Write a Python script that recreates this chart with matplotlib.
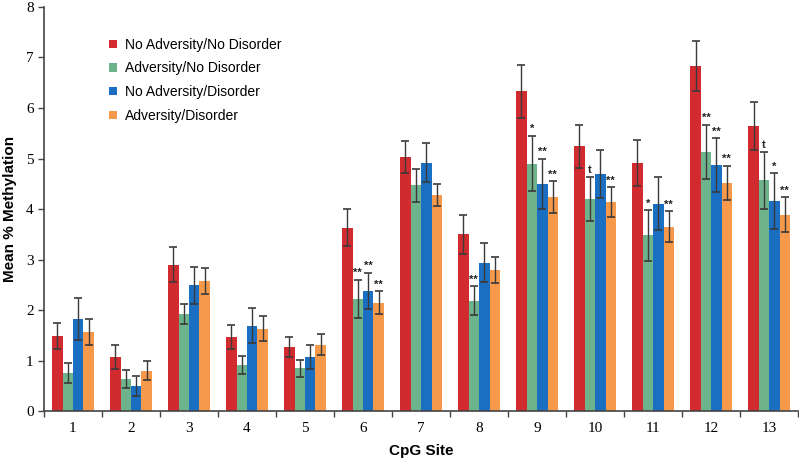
import matplotlib
matplotlib.use('Agg')
import matplotlib.pyplot as plt
import numpy as np

sites = ['1', '2', '3', '4', '5', '6', '7', '8', '9', '10', '11', '12', '13']
groups = ['No Adversity/No Disorder', 'Adversity/No Disorder',
          'No Adversity/Disorder', 'Adversity/Disorder']
colors = ['#d12a2f', '#6db38b', '#1a6fc3', '#f6994a']

no_adv_no_dis = [1.49, 1.07, 2.90, 1.47, 1.27, 3.63, 5.03, 3.50, 6.33, 5.24, 4.91, 6.83, 5.64]
adv_no_dis = [0.75, 0.63, 1.92, 0.91, 0.85, 2.22, 4.47, 2.19, 4.90, 4.20, 3.48, 5.13, 4.57]
no_adv_dis = [1.83, 0.50, 2.49, 1.69, 1.07, 2.38, 4.92, 2.94, 4.50, 4.69, 4.11, 4.87, 4.16]
adv_dis = [1.57, 0.80, 2.58, 1.63, 1.32, 2.15, 4.28, 2.80, 4.24, 4.14, 3.65, 4.52, 3.89]

err_no_adv_no_dis = [0.25, 0.24, 0.35, 0.24, 0.20, 0.37, 0.32, 0.38, 0.52, 0.42, 0.46, 0.50, 0.47]
err_adv_no_dis = [0.20, 0.18, 0.20, 0.18, 0.17, 0.38, 0.33, 0.29, 0.55, 0.44, 0.50, 0.54, 0.56]
err_no_adv_dis = [0.42, 0.19, 0.37, 0.35, 0.24, 0.36, 0.39, 0.39, 0.50, 0.47, 0.52, 0.53, 0.55]
err_adv_dis = [0.26, 0.19, 0.26, 0.25, 0.20, 0.23, 0.22, 0.26, 0.31, 0.29, 0.31, 0.34, 0.34]

# significance marks per group (site index -> text)
sig_adv_no_dis = {5: '**', 7: '**', 8: '*', 9: 't', 10: '*', 11: '**', 12: 't'}
sig_no_adv_dis = {5: '**', 8: '**', 11: '**', 12: '*'}
sig_adv_dis = {5: '**', 8: '**', 9: '**', 10: '**', 11: '**', 12: '**'}

values = [no_adv_no_dis, adv_no_dis, no_adv_dis, adv_dis]
errors = [err_no_adv_no_dis, err_adv_no_dis, err_no_adv_dis, err_adv_dis]
sigs = [{}, sig_adv_no_dis, sig_no_adv_dis, sig_adv_dis]

fig = plt.figure(figsize=(7.99, 4.61), dpi=100)
ax = fig.add_axes([0.055, 0.108, 0.944, 0.877])

x = np.arange(len(sites))
w = 0.18
for i in range(4):
    pos = x + (i - 1.5) * w
    ax.bar(pos, values[i], w, color=colors[i], label=groups[i],
           yerr=errors[i], ecolor='#3a3a3a', capsize=3,
           error_kw={'elinewidth': 1.0, 'capthick': 1.2})
    for k, s in sigs[i].items():
        ax.text(pos[k], values[i][k] + errors[i][k] + 0.03, s, ha='center',
                va='bottom', fontsize=8, fontweight='bold', color='#222222',
                family='Liberation Sans')

ax.set_xlim(-0.5, len(sites) - 0.5)
ax.set_ylim(0, 8)
ax.set_xticks(x)
ax.set_xticklabels(sites, family='Liberation Serif', fontsize=11)
ax.set_xticks(np.arange(len(sites) + 1) - 0.5, minor=True)
ax.tick_params(axis='x', which='major', length=0, pad=8)
ax.tick_params(axis='x', which='minor', length=4, width=1, color='#444444')
ax.set_yticks(range(9))
ax.set_yticklabels([str(v) for v in range(9)], family='Liberation Serif', fontsize=11)
ax.tick_params(axis='y', length=4, width=1, color='#444444')

for sp in ['top', 'right']:
    ax.spines[sp].set_visible(False)
for sp in ['left', 'bottom']:
    ax.spines[sp].set_color('#444444')
    ax.spines[sp].set_linewidth(1.2)

ax.set_xlabel('CpG Site', family='Liberation Sans', fontweight='bold', fontsize=11, labelpad=6)
ax.set_ylabel('Mean % Methylation', family='Liberation Sans', fontweight='bold', fontsize=11)
ax.yaxis.set_label_coords(-0.036, 0.5)

leg = ax.legend(loc='upper left', bbox_to_anchor=(0.07, 0.955), frameon=False,
                prop={'family': 'Liberation Sans', 'size': 10},
                handlelength=0.55, handleheight=0.55, handletextpad=0.6,
                labelspacing=0.7)

fig.savefig('out.png', dpi=100)
